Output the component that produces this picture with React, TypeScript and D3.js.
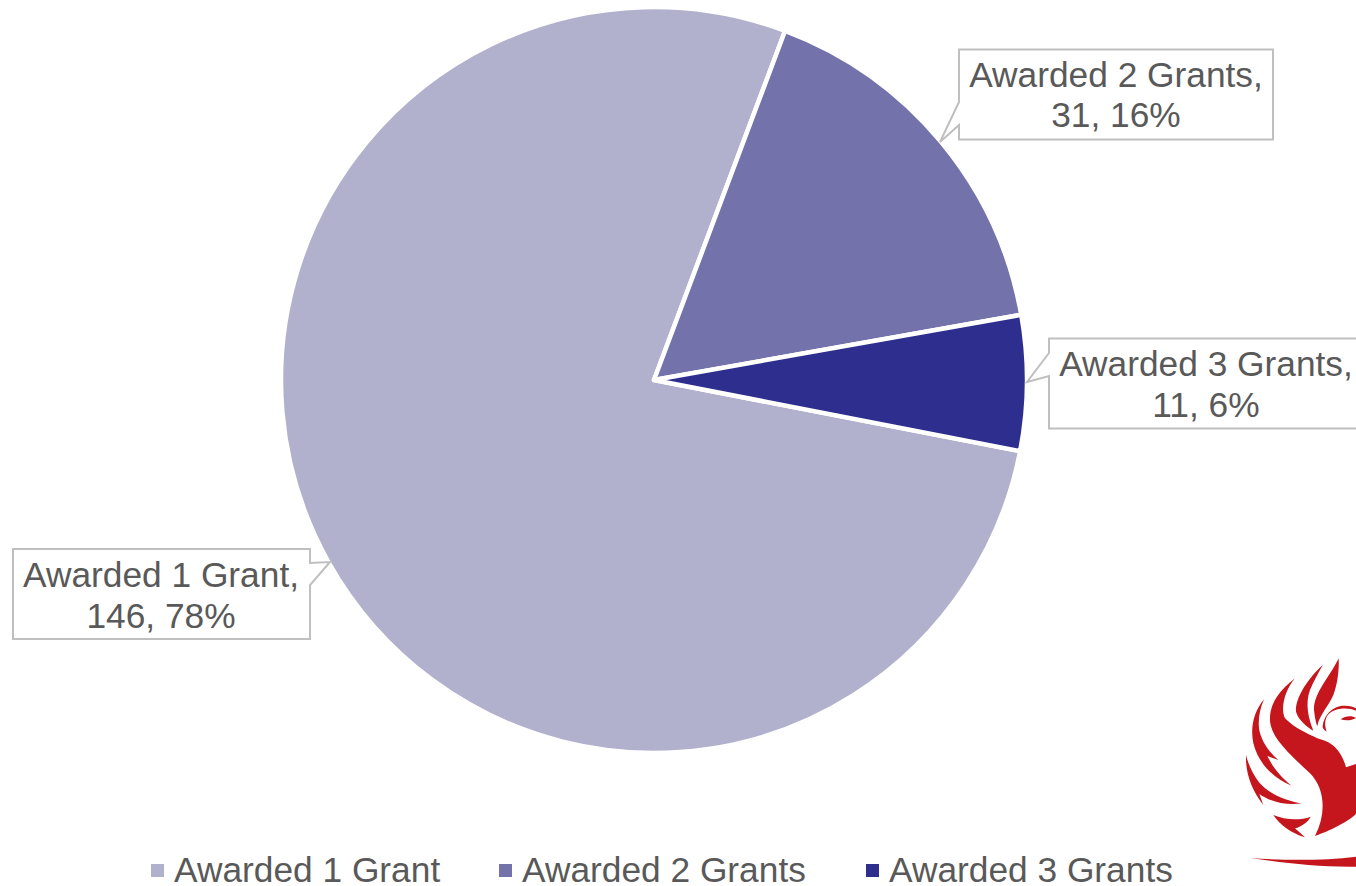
import React from "react";
import * as d3 from "d3";

const categories = ["Awarded 1 Grant", "Awarded 2 Grants", "Awarded 3 Grants"];
const values = [146, 31, 11];
const colors = ["#B1B1CD", "#7372AB", "#2E2E8F"];
const labelLines = [
  ["Awarded 1 Grant,", "146, 78%"],
  ["Awarded 2 Grants,", "31, 16%"],
  ["Awarded 3 Grants,", "11, 6%"],
];
const callouts = [
  { x: 13, y: 549, w: 297, h: 90, tx: 161, ty: [575, 616], side: "right", a: 563, b: 585, px: 330, py: 562 },
  { x: 959, y: 49.5, w: 314, h: 90, tx: 1116, ty: [75, 115], side: "left", a: 102, b: 125, px: 940, py: 142 },
  { x: 1049, y: 338.5, w: 330, h: 90, tx: 1206, ty: [364, 405], side: "left", a: 353, b: 376, px: 1027, py: 382 },
];
const legendSwatchX = [151, 499, 866];
const FONT = '"Liberation Sans", Arial, sans-serif';

function calloutPath(c: (typeof callouts)[number]) {
  const r = c.x + c.w, bot = c.y + c.h;
  const p = d3.path();
  p.moveTo(c.x, c.y);
  p.lineTo(r, c.y);
  if (c.side === "right") {
    p.lineTo(r, c.a); p.lineTo(c.px, c.py); p.lineTo(r, c.b);
  }
  p.lineTo(r, bot);
  p.lineTo(c.x, bot);
  if (c.side === "left") {
    p.lineTo(c.x, c.b); p.lineTo(c.px, c.py); p.lineTo(c.x, c.a);
  }
  p.closePath();
  return p.toString();
}

const logoPaths = [
  "M195 115 C150 150 118 190 120 240 C122 290 170 335 240 400 C285 445 290 520 255 588 C310 570 378 530 378 520 L378 372 L348 382 C340 350 320 315 285 302 L262 295 C230 280 195 265 165 235 C150 205 165 150 195 115Z",
  "M278 75 C240 110 195 170 198 215 C205 240 230 260 250 272 C235 235 225 190 240 150 C250 125 265 100 278 75Z",
  "M326 55 C300 110 250 160 252 210 C255 235 258 250 262 258 C268 225 295 200 310 165 C322 135 328 90 326 55Z",
  "M102 178 C72 215 60 260 70 310 C85 370 130 415 185 437 C150 410 128 380 112 348 L145 360 C115 335 92 300 87 265 C84 235 90 205 102 178Z",
  "M48 345 C46 400 65 450 100 495 L88 462 C120 485 170 498 215 490 C170 483 118 462 88 428 C70 405 55 375 48 345Z",
  "M130 525 C150 555 185 580 225 592 L195 565 C215 560 235 545 242 530 C210 542 165 540 130 525Z",
  "M62 654 C150 668 270 682 378 680 L378 650 C280 662 170 662 62 654Z",
  "M278 262 C280 225 310 195 345 197 C360 197 370 200 378 205 L378 212 C350 200 305 205 290 230 C283 245 285 260 290 275 C285 272 280 268 278 262Z",
  "M332 238 C345 228 365 226 378 234 C365 242 345 243 332 238Z",
];

export default function App() {
  const cx = 654, cy = 380, r = 373;
  const pie = d3.pie<number>().sort(null)
    .startAngle((101 * Math.PI) / 180)
    .endAngle((461 * Math.PI) / 180);
  const arcs = pie(values);
  const arc = d3.arc<d3.PieArcDatum<number>>().innerRadius(0).outerRadius(r);
  return (
    <svg width={1356} height={886} viewBox="0 0 1356 886"
      style={{ position: "absolute", left: 0, top: 0, background: "#fff" }}>
      <g transform={`translate(${cx},${cy})`}>
        {arcs.map((a, i) => (
          <path key={i} d={arc(a) ?? ""} fill={colors[i]} stroke="#fff" strokeWidth={4.5} strokeLinejoin="round" />
        ))}
      </g>
      {callouts.map((c, i) => (
        <g key={i}>
          <path d={calloutPath(c)} fill="#fff" stroke="#BFBFBF" strokeWidth={2} />
          {labelLines[i].map((t, j) => (
            <text key={j} x={c.tx} y={c.ty[j] + 12} textAnchor="middle"
              fontFamily={FONT} fontSize={35.3} fill="#595959">{t}</text>
          ))}
        </g>
      ))}
      <g transform="translate(1230,640) scale(0.3333)" fill="#C4161C">
        {logoPaths.map((d, i) => <path key={i} d={d} />)}
      </g>
      {categories.map((c, i) => (
        <g key={c}>
          <rect x={legendSwatchX[i]} y={864} width={13} height={13} fill={colors[i]} />
          <text x={legendSwatchX[i] + 23} y={882} fontFamily={FONT} fontSize={35.3} fill="#595959">{c}</text>
        </g>
      ))}
    </svg>
  );
}
